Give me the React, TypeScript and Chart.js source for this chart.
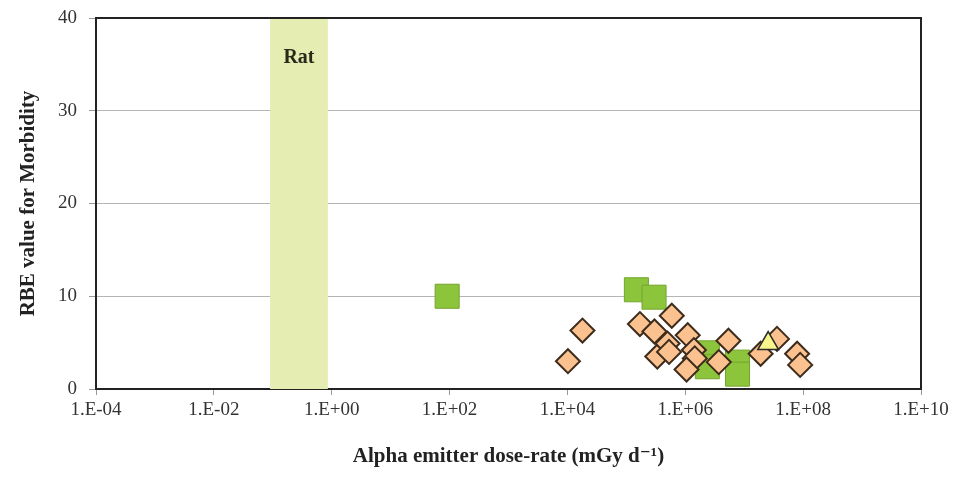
import React, { useEffect, useRef } from "react";
import { Chart, registerables } from "chart.js";

Chart.register(...registerables);

// Tick values on the x axis (log)
const xTickValues = [1e-4, 1e-2, 1e0, 1e2, 1e4, 1e6, 1e8, 1e10];
const yTickValues = [0, 10, 20, 30, 40];

// Rat band (dose-rate range)
const ratRange = [0.09, 0.86];
const ratLabel = "Rat";

// Green squares
const squareX = [91, 1.48e5, 2.95e5, 2.37e6, 2.37e6, 7.7e6, 7.7e6];
const squareY = [10, 10.7, 9.9, 3.9, 2.4, 2.9, 1.6];

// Orange diamonds
const diamondX = [
  1.02e4, 1.8e4, 1.7e5, 5.9e5, 3.0e5, 3.35e5, 5.0e5, 5.3e5, 1.1e6, 1.4e6,
  1.45e6, 1.05e6, 3.7e6, 5.4e6, 1.9e7, 3.6e7, 7.9e7, 8.9e7,
];
const diamondY = [
  3.0, 6.3, 7.0, 7.9, 6.2, 3.5, 4.9, 4.0, 5.8, 4.2, 3.3, 2.1, 2.9, 5.2, 3.8,
  5.4, 3.8, 2.6,
];

// Yellow triangle
const triangleX = [2.55e7];
const triangleY = [4.9];

const serif = "'Liberation Serif', 'DejaVu Serif', serif";

function toPoints(xs: number[], ys: number[]) {
  return xs.map((x, i) => ({ x, y: ys[i] }));
}

function fmtTick(v: number) {
  const e = Math.round(Math.log10(v));
  const sign = e < 0 ? "-" : "+";
  const a = Math.abs(e);
  return "1.E" + sign + (a < 10 ? "0" + a : String(a));
}

export default function App() {
  const ref = useRef<HTMLCanvasElement | null>(null);

  useEffect(() => {
    document.body.style.margin = "0";
    const canvas = ref.current;
    if (!canvas) return;

    const bandPlugin = {
      id: "bandAndFrame",
      beforeDatasetsDraw(chart: any) {
        const { ctx, chartArea, scales } = chart;
        const x0 = scales.x.getPixelForValue(ratRange[0]);
        const x1 = scales.x.getPixelForValue(ratRange[1]);
        ctx.save();
        ctx.fillStyle = "#e5edb3";
        ctx.fillRect(x0, chartArea.top, x1 - x0, chartArea.bottom - chartArea.top);
        ctx.fillStyle = "#2a2a1a";
        ctx.font = "bold 20px " + serif;
        ctx.textAlign = "center";
        ctx.textBaseline = "middle";
        ctx.fillText(ratLabel, (x0 + x1) / 2, chartArea.top + 40);
        ctx.restore();
      },
      afterDatasetsDraw(chart: any) {
        const { ctx, chartArea } = chart;
        ctx.save();
        ctx.strokeStyle = "#222";
        ctx.lineWidth = 2;
        ctx.beginPath();
        ctx.moveTo(chartArea.left, chartArea.top);
        ctx.lineTo(chartArea.right, chartArea.top);
        ctx.lineTo(chartArea.right, chartArea.bottom);
        ctx.stroke();
        ctx.restore();
      },
    };

    const chart = new Chart(canvas, {
      type: "scatter",
      data: {
        datasets: [
          {
            label: "triangle",
            data: toPoints(triangleX, triangleY),
            pointStyle: "triangle",
            pointRadius: 12,
            backgroundColor: "#f8f58a",
            borderColor: "#2a2a2a",
            borderWidth: 1.5,
          },
          {
            label: "diamond",
            data: toPoints(diamondX, diamondY),
            pointStyle: "rectRot",
            pointRadius: 12,
            backgroundColor: "#fbc28f",
            borderColor: "#3d2c1c",
            borderWidth: 2,
          },
          {
            label: "square",
            data: toPoints(squareX, squareY),
            pointStyle: "rect",
            pointRadius: 17,
            backgroundColor: "#8cc43c",
            borderColor: "#74a52e",
            borderWidth: 1,
          },
        ],
      },
      options: {
        animation: false,
        responsive: false,
        events: [],
        layout: { padding: { top: 17, right: 49, left: 0, bottom: 0 } },
        plugins: {
          legend: { display: false },
          tooltip: { enabled: false },
        },
        scales: {
          x: {
            type: "logarithmic",
            min: 1e-4,
            max: 1e10,
            afterBuildTicks(scale: any) {
              scale.ticks = xTickValues.map((v) => ({ value: v }));
            },
            afterFit(scale: any) {
              scale.height = 89;
              scale.paddingLeft = 0;
              scale.paddingRight = 0;
            },
            ticks: {
              autoSkip: false,
              maxRotation: 0,
              padding: 4,
              color: "#333",
              font: { family: serif, size: 19 },
              callback: (v: any) => fmtTick(Number(v)),
            },
            grid: {
              drawOnChartArea: false,
              drawTicks: true,
              tickLength: 6,
              color: "#999",
            },
            border: { color: "#222", width: 2 },
            title: {
              display: true,
              text: "Alpha emitter dose-rate (mGy d\u207B\u00B9)",
              color: "#222",
              font: { family: serif, size: 21, weight: "bold" },
              padding: { top: 0, bottom: 9 },
            },
          },
          y: {
            min: 0,
            max: 40,
            afterBuildTicks(scale: any) {
              scale.ticks = yTickValues.map((v) => ({ value: v }));
            },
            afterFit(scale: any) {
              scale.width = 96;
              scale.paddingTop = 0;
              scale.paddingBottom = 0;
            },
            ticks: {
              padding: 12,
              color: "#333",
              font: { family: serif, size: 19 },
            },
            grid: {
              color: "#b5b5b5",
              lineWidth: 1,
              tickLength: 7,
              tickColor: "#999",
            },
            border: { color: "#222", width: 2 },
            title: {
              display: true,
              text: "RBE value for Morbidity",
              color: "#222",
              font: { family: serif, size: 21, weight: "bold" },
              padding: { top: 16, bottom: 0 },
            },
          },
        },
      },
      plugins: [bandPlugin],
    } as any);

    return () => chart.destroy();
  }, []);

  return (
    <div style={{ width: 970, height: 478 }}>
      <canvas ref={ref} width={970} height={478} />
    </div>
  );
}
